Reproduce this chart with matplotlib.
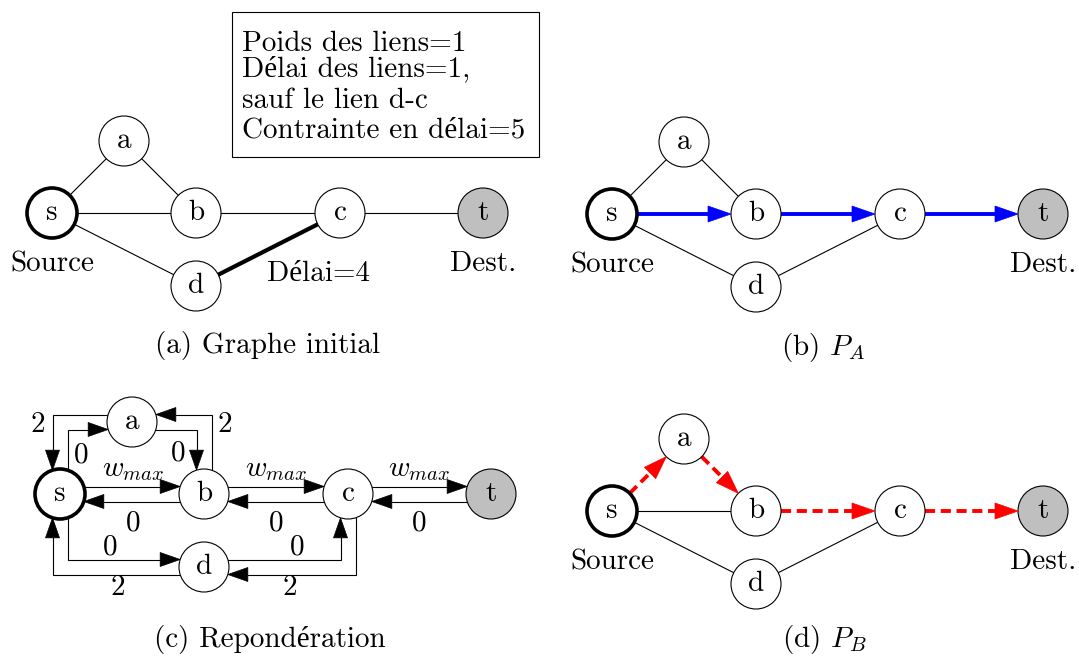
import numpy as np
import matplotlib
matplotlib.use('Agg')
import matplotlib.pyplot as plt
from matplotlib.patches import Circle, Polygon, Rectangle

plt.rcParams['font.family'] = ['cmr10', 'Liberation Serif']
plt.rcParams['mathtext.fontset'] = 'cm'

# ---------------- data ----------------
node_names = ['s', 'a', 'b', 'c', 'd', 't']
undirected_edges = [('s', 'a'), ('a', 'b'), ('s', 'b'), ('b', 'c'),
                    ('c', 't'), ('s', 'd'), ('d', 'c')]
delay_edge = ('d', 'c')
path_A = ['s', 'b', 'c', 't']
path_B = ['s', 'a', 'b', 'c', 't']
info_lines = ['Poids des liens=1', 'Délai des liens=1,',
              'sauf le lien d-c', 'Contrainte en délai=5']
delay_label = 'Délai=4'
source_label = 'Source'
dest_label = 'Dest.'
captions = ['(a) Graphe initial', '(b) $P_A$', '(c) Repondération', '(d) $P_B$']
arc_src = ['s', 'b', 'b', 'c', 'c', 't', 's', 'a', 'a', 'b', 's', 'd', 'd', 'c']
arc_dst = ['b', 's', 'c', 'b', 't', 'c', 'a', 's', 'b', 'a', 'd', 's', 'c', 'd']
arc_w = ['$w_{max}$', '0', '$w_{max}$', '0', '$w_{max}$', '0',
         '0', '2', '0', '2', '0', '2', '0', '2']

# ---------------- layout ----------------
node_dx = [0, 72, 144, 288, 144, 431]
node_dy = [0, -72, 0, 0, 73, 0]
panel_origin = {'a': (52, 213), 'b': (612, 214), 'c': (60, 494), 'd': (612, 511)}
caption_pos = [(268, 353), (823, 355), (270, 647), (824, 647)]
arc_label_off = [(73, -24), (73, 29), (216, -24), (216, 29), (359, -24), (359, 29),
                 (21, -39), (-22, -69), (118, -41), (165, -69),
                 (50, 53), (58, 94), (237, 53), (230, 94)]
R = 25
FS = 21
THIN = 0.8

fig = plt.figure(figsize=(10.79, 6.56), dpi=100)
ax = fig.add_axes([0, 0, 1, 1])
ax.set_xlim(0, 1079)
ax.set_ylim(656, 0)
ax.set_aspect('equal')
ax.axis('off')


def pos(panel, n):
    ox, oy = panel_origin[panel]
    i = node_names.index(n)
    return np.array([ox + node_dx[i], oy + node_dy[i]], dtype=float)


def draw_nodes(panel, labels=True):
    for n in node_names:
        x, y = pos(panel, n)
        lw = 2.6 if n == 's' else THIN
        fc = '#bfbfbf' if n == 't' else 'white'
        ax.add_patch(Circle((x, y), R, fc=fc, ec='black', lw=lw, zorder=3))
        ax.text(x, y, n, ha='center', va='center', fontsize=FS, zorder=4)
    if labels:
        sx, sy = pos(panel, 's')
        tx, ty = pos(panel, 't')
        ax.text(sx, sy + 51, source_label, ha='center', va='center', fontsize=FS)
        ax.text(tx, ty + 51, dest_label, ha='center', va='center', fontsize=FS)


def arrowhead(tip, d, color, L=20, W=7.5):
    d = np.asarray(d, float)
    d = d / np.linalg.norm(d)
    perp = np.array([-d[1], d[0]])
    base = tip - d * L
    pts = [tip, base + perp * W, base - perp * W]
    ax.add_patch(Polygon(pts, closed=True, fc=color, ec=color, lw=0.5, zorder=5))
    return base


def straight_arrow(panel, u, v, color, dashed=False):
    p, q = pos(panel, u), pos(panel, v)
    d = (q - p) / np.linalg.norm(q - p)
    start = p + d * R
    tip = q - d * R
    base = arrowhead(tip, d, color, L=23, W=8)
    kw = dict(color=color, lw=2.8, zorder=2, solid_capstyle='butt')
    if dashed:
        kw['dashes'] = (2.6, 1.45)
        kw['dash_capstyle'] = 'butt'
    ax.plot([start[0], base[0] + d[0] * 2], [start[1], base[1] + d[1] * 2], **kw)


def plain_edges(panel, edges, thick=None):
    for u, v in edges:
        p, q = pos(panel, u), pos(panel, v)
        lw = 3.0 if thick is not None and (u, v) == thick else THIN
        ax.plot([p[0], q[0]], [p[1], q[1]], color='black', lw=lw, zorder=1,
                solid_capstyle='butt')


# ---------- panel (a) ----------
plain_edges('a', undirected_edges, thick=delay_edge)
draw_nodes('a')
ax.text(318, 274, delay_label, ha='center', va='center', fontsize=FS)
ax.add_patch(Rectangle((232, 12), 307, 145, fill=False, ec='black', lw=0.8))
for txt, yb in zip(info_lines, [51, 76, 108, 137]):
    ax.text(242, yb, txt, ha='left', va='baseline', fontsize=FS)

# ---------- panel (b) ----------
edges_b = [e for e in undirected_edges
           if not any((e == (path_A[i], path_A[i + 1]) or e == (path_A[i + 1], path_A[i]))
                      for i in range(len(path_A) - 1))]
plain_edges('b', edges_b)
for i in range(len(path_A) - 1):
    straight_arrow('b', path_A[i], path_A[i + 1], 'blue')
draw_nodes('b')

# ---------- panel (d) ----------
edges_d = [e for e in undirected_edges
           if not any((e == (path_B[i], path_B[i + 1]) or e == (path_B[i + 1], path_B[i]))
                      for i in range(len(path_B) - 1))]
plain_edges('d', edges_d)
for i in range(len(path_B) - 1):
    straight_arrow('d', path_B[i], path_B[i + 1], 'red', dashed=True)
draw_nodes('d')

# ---------- panel (c) ----------
row_y = pos('c', 's')[1]
OFF = 7.5
H = np.sqrt(R ** 2 - OFF ** 2)


def route(src, dst):
    S, D = pos('c', src), pos('c', dst)
    if S[1] == D[1]:
        if D[0] > S[0]:
            y = S[1] - OFF
            return [np.array([S[0] + H, y]), np.array([D[0] - H, y])]
        y = S[1] + OFF
        return [np.array([S[0] - H, y]), np.array([D[0] + H, y])]
    inner = D[0] > S[0]
    if S[1] == row_y:
        M, O = S, D
    else:
        M, O = D, S
    sgn_x = np.sign(O[0] - M[0]) * (1 if inner else -1)
    sgn_y = np.sign(M[1] - O[1]) * (1 if inner else -1)
    vx = M[0] + sgn_x * OFF
    hy = O[1] + sgn_y * OFF
    yb = M[1] + np.sign(O[1] - M[1]) * H
    xb = O[0] + np.sign(M[0] - O[0]) * H
    pts = [np.array([vx, yb]), np.array([vx, hy]), np.array([xb, hy])]
    if M is D:
        pts = pts[::-1]
    return pts


ox_c, oy_c = panel_origin['c']
for s_, d_, w, (lx, ly) in zip(arc_src, arc_dst, arc_w, arc_label_off):
    pts = route(s_, d_)
    tip = pts[-1]
    dvec = pts[-1] - pts[-2]
    base = arrowhead(tip, dvec, 'black', L=20, W=7)
    line = pts[:-1] + [base]
    ax.plot([p[0] for p in line], [p[1] for p in line], color='black', lw=THIN,
            zorder=2, solid_joinstyle='miter')
    ax.text(ox_c + lx, oy_c + ly, w, ha='center', va='center', fontsize=FS)
draw_nodes('c', labels=False)

# ---------- captions ----------
for cap, (cx, cy) in zip(captions, caption_pos):
    ax.text(cx, cy, cap, ha='center', va='baseline', fontsize=FS)

fig.savefig('out.png', dpi=100)
